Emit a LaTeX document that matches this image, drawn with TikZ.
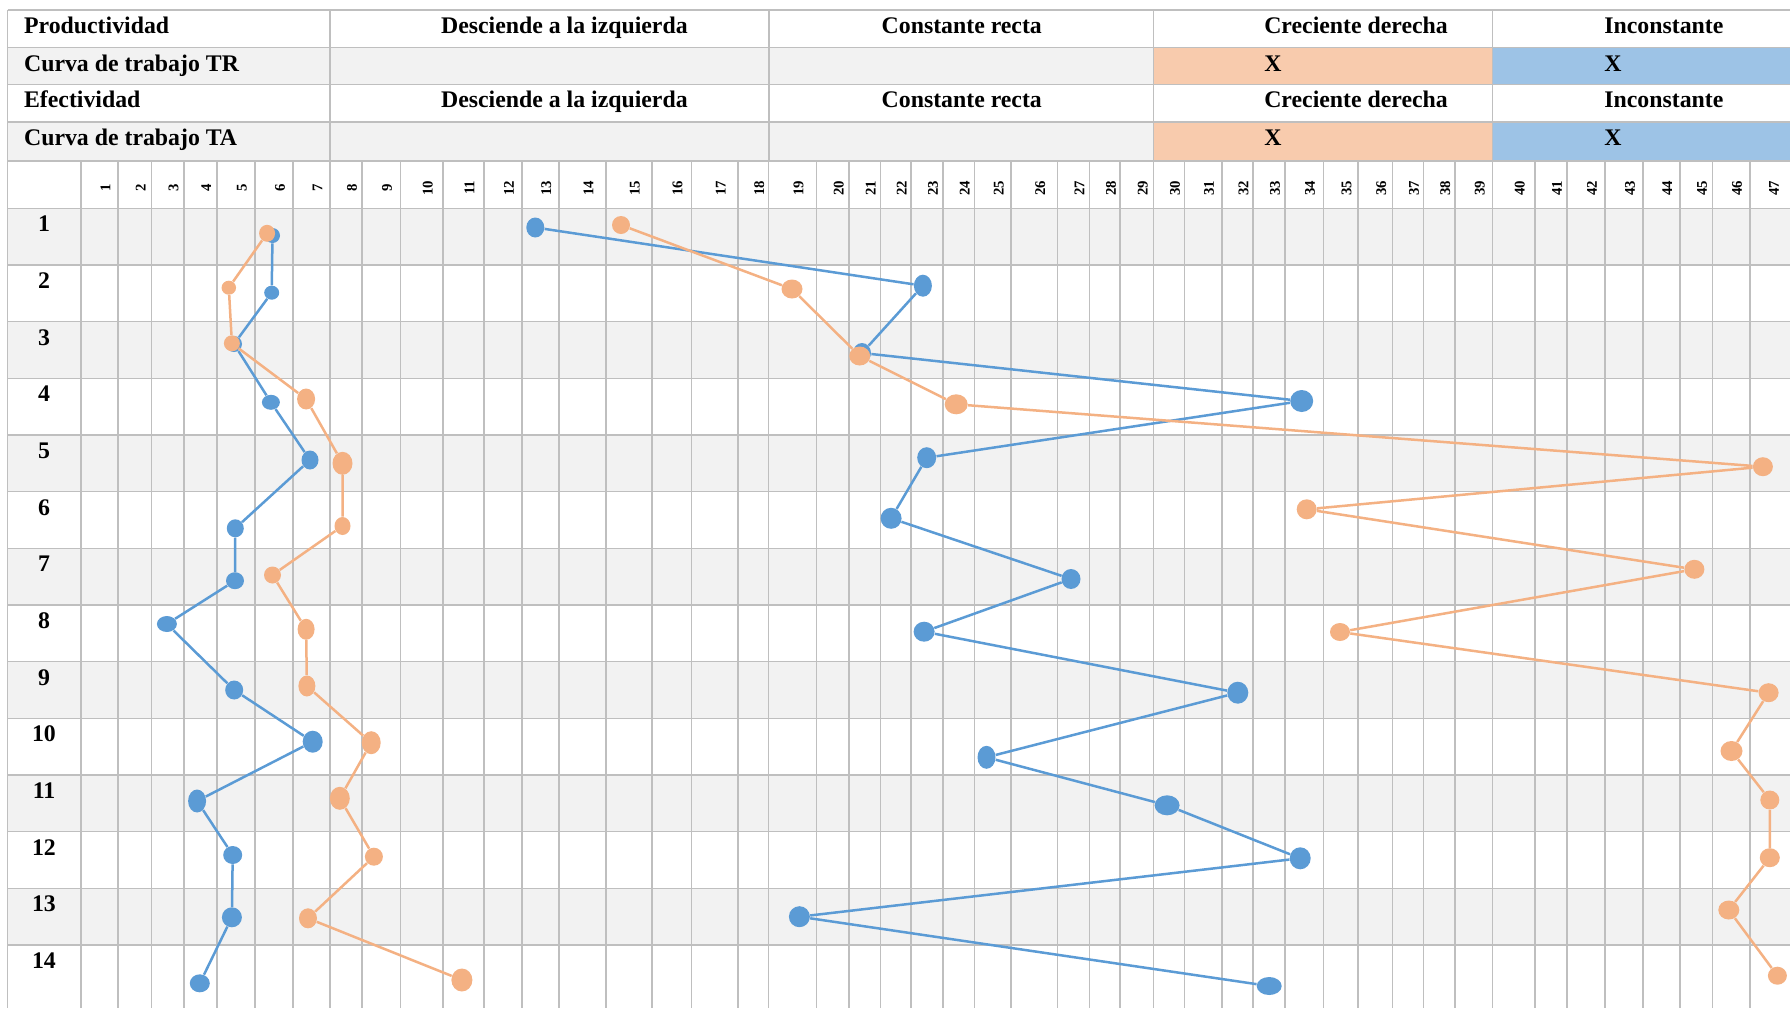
\documentclass[tikz,border=0pt]{standalone}
\usepackage{fontspec}
\setmainfont{Liberation Serif}
\usetikzlibrary{shapes.geometric}
\definecolor{gridc}{HTML}{BFBFBF}
\definecolor{lightg}{HTML}{F2F2F2}
\definecolor{orangeCell}{HTML}{F8CBAD}
\definecolor{blueCell}{HTML}{9DC3E6}
\definecolor{blueS}{HTML}{5B9BD5}
\definecolor{orangeS}{HTML}{F4B183}
\begin{document}
\begin{tikzpicture}[x=0.5pt,y=-0.5pt,
  hdr/.style={anchor=base west, inner sep=0pt, font=\fontsize{11.9}{14}\selectfont\bfseries},
  rown/.style={anchor=base, inner sep=0pt, font=\fontsize{11.9}{14}\selectfont\bfseries},
  coln/.style={rotate=90, inner sep=0pt, font=\fontsize{7.4}{9}\selectfont\bfseries},
  gline/.style={draw=gridc, line width=0.8pt},
  bmk/.style={ellipse, fill=blueS, draw=none, inner sep=0pt},
  omk/.style={ellipse, fill=orangeS, draw=none, inner sep=0pt},
  bln/.style={draw=blueS, line width=1.25pt},
  oln/.style={draw=orangeS, line width=1.25pt}]
\useasboundingbox (0,0) rectangle (1790,1008);
\fill[white] (0,0) rectangle (1790,1008);
% header fills
\fill[lightg] (7.65,47.3) rectangle (1153.3,84.3);
\fill[orangeCell] (1153.3,47.3) rectangle (1492.3,84.3);
\fill[blueCell] (1492.3,47.3) rectangle (1790,84.3);
\fill[lightg] (7.65,121.7) rectangle (1153.3,160.7);
\fill[orangeCell] (1153.3,121.7) rectangle (1492.3,160.7);
\fill[blueCell] (1492.3,121.7) rectangle (1790,160.7);
% data row shading
\foreach \k in {0,2,...,12}
  \fill[lightg] (7.65,{208.3+56.67*\k}) rectangle (1790,{208.3+56.67*(\k+1)});
% horizontal lines
\foreach \y in {10,47.3,84.3,121.7,160.7}
  \draw[gline] (7.65,\y) -- (1790,\y);
\foreach \k in {0,...,13}
  \draw[gline] (7.65,{208.3+56.67*\k}) -- (1790,{208.3+56.67*\k});
% vertical lines
\draw[gline] (7.65,10) -- (7.65,1008);
\foreach \x in {330,768.8,1153.3,1492.3}
  \draw[gline] (\x,10) -- (\x,161);
\foreach \a/\b [count=\i] in {81.1/117.9,117.9/151.5,151.5/183.7,183.7/217.0,217.0/254.8,254.8/293.1,293.1/329.9,329.9/362.0,362.0/400.3,400.3/443.1,443.1/484.1,484.1/521.7,521.7/558.9,558.9/606,606/651.7,651.7/691.3,691.3/738,738/768.6,768.6/816.6,816.6/848.7,848.7/880.5,880.5/911.1,911.1/942.9,942.9/974.6,974.6/1011.2,1011.2/1057.5,1057.5/1089.6,1089.6/1120.2,1120.2/1153.3,1153.3/1184.5,1184.5/1221.8,1221.8/1253.2,1253.2/1285,1285/1323.3,1323.3/1358,1358/1392.6,1392.6/1423.4,1423.4/1455.2,1455.2/1492.3,1492.3/1535.2,1535.2/1566.9,1566.9/1605.2,1605.2/1642.7,1642.7/1679.8,1679.8/1712.4,1712.4/1749.9,1749.9/1786}{
  \draw[gline] (\a,161) -- (\a,1008);
  \node[coln] (cn\i) at ({(\a+\b)/2+6},188) {\i};
}
% header texts
\node[hdr] (h11) at (23.7,33.3) {Productividad};
\node[hdr] (h12) at (440.7,33.3) {Desciende a la izquierda};
\node[hdr] (h13) at (881.3,33.3) {Constante recta};
\node[hdr] (h14) at (1263.9,33.3) {Creciente derecha};
\node[hdr] (h15) at (1604,33.3) {Inconstante};
\node[hdr] (h21) at (23.7,71) {Curva de trabajo TR};
\node[hdr] (h24) at (1263.9,71) {X};
\node[hdr] (h25) at (1604,71) {X};
\node[hdr] (h31) at (23.7,107.3) {Efectividad};
\node[hdr] (h32) at (440.7,107.3) {Desciende a la izquierda};
\node[hdr] (h33) at (881.3,107.3) {Constante recta};
\node[hdr] (h34) at (1263.9,107.3) {Creciente derecha};
\node[hdr] (h35) at (1604,107.3) {Inconstante};
\node[hdr] (h41) at (23.7,145) {Curva de trabajo TA};
\node[hdr] (h44) at (1263.9,145) {X};
\node[hdr] (h45) at (1604,145) {X};
% row numbers
\foreach \k in {1,...,14}
  \node[rown] (rn\k) at (44,{208.3+56.67*(\k-1)+23.4}) {\k};
% blue markers
\node[bmk, minimum width=7.5pt, minimum height=7.5pt] (ba1) at (272.5,235.5) {};
\node[bmk, minimum width=7.5pt, minimum height=7pt] (ba2) at (271.7,292.7) {};
\node[bmk, minimum width=8pt, minimum height=8pt] (ba3) at (234,344) {};
\node[bmk, minimum width=9pt, minimum height=7.5pt] (ba4) at (270.9,402.3) {};
\node[bmk, minimum width=8.5pt, minimum height=9.5pt] (ba5) at (310,460) {};
\node[bmk, minimum width=8.5pt, minimum height=9pt] (ba6) at (235.3,528.3) {};
\node[bmk, minimum width=9pt, minimum height=8.5pt] (ba7) at (235,580.7) {};
\node[bmk, minimum width=10pt, minimum height=8pt] (ba8) at (166.9,624) {};
\node[bmk, minimum width=9pt, minimum height=9.5pt] (ba9) at (234.2,690) {};
\node[bmk, minimum width=10pt, minimum height=11pt] (ba10) at (312.7,741.7) {};
\node[bmk, minimum width=9pt, minimum height=11.5pt] (ba11) at (197.1,801) {};
\node[bmk, minimum width=9.5pt, minimum height=9pt] (ba12) at (232.7,855) {};
\node[bmk, minimum width=10pt, minimum height=10pt] (ba13) at (231.9,917.3) {};
\node[bmk, minimum width=10pt, minimum height=9pt] (ba14) at (199.8,983.3) {};
\node[bmk, minimum width=9pt, minimum height=10pt] (bb1) at (535.3,227.5) {};
\node[bmk, minimum width=9pt, minimum height=11pt] (bb2) at (922.9,285.7) {};
\node[bmk, minimum width=9pt, minimum height=10pt] (bb3) at (862,353) {};
\node[bmk, minimum width=11.5pt, minimum height=11pt] (bb4) at (1301.7,401) {};
\node[bmk, minimum width=9.5pt, minimum height=10.5pt] (bb5) at (926.7,457.7) {};
\node[bmk, minimum width=10.5pt, minimum height=10.5pt] (bb6) at (891.1,518.3) {};
\node[bmk, minimum width=9.5pt, minimum height=10pt] (bb7) at (1071,579) {};
\node[bmk, minimum width=10.5pt, minimum height=10pt] (bb8) at (924.1,631.7) {};
\node[bmk, minimum width=10.5pt, minimum height=11pt] (bb9) at (1237.8,692.7) {};
\node[bmk, minimum width=9pt, minimum height=11.5pt] (bb10) at (986.5,757.3) {};
\node[bmk, minimum width=12.5pt, minimum height=10pt] (bb11) at (1167.1,805.3) {};
\node[bmk, minimum width=10.5pt, minimum height=11pt] (bb12) at (1300.2,858.3) {};
\node[bmk, minimum width=10.5pt, minimum height=10.5pt] (bb13) at (799.4,916.7) {};
\node[bmk, minimum width=12.5pt, minimum height=9pt] (bb14) at (1269.2,986) {};
% blue lines
\draw[bln] (ba1) -- (ba2) -- (ba3) -- (ba4) -- (ba5) -- (ba6) -- (ba7) -- (ba8) -- (ba9) -- (ba10) -- (ba11) -- (ba12) -- (ba13) -- (ba14);
\draw[bln] (bb1) -- (bb2) -- (bb3) -- (bb4) -- (bb5) -- (bb6) -- (bb7) -- (bb8) -- (bb9) -- (bb10) -- (bb11) -- (bb12) -- (bb13) -- (bb14);
% orange markers
\node[omk, minimum width=8pt, minimum height=8.5pt] (oa1) at (267.1,233.3) {};
\node[omk, minimum width=7.25pt, minimum height=7pt] (oa2) at (228.8,287.7) {};
\node[omk, minimum width=8pt, minimum height=8pt] (oa3) at (231.9,343.3) {};
\node[omk, minimum width=9pt, minimum height=10.5pt] (oa4) at (306.1,399) {};
\node[omk, minimum width=10pt, minimum height=11.5pt] (oa5) at (342.5,463.3) {};
\node[omk, minimum width=8pt, minimum height=9pt] (oa6) at (342.5,526) {};
\node[omk, minimum width=8.5pt, minimum height=8.5pt] (oa7) at (272.5,575) {};
\node[omk, minimum width=8.5pt, minimum height=10.5pt] (oa8) at (306.1,629.3) {};
\node[omk, minimum width=8.5pt, minimum height=10.5pt] (oa9) at (306.9,686) {};
\node[omk, minimum width=9.5pt, minimum height=11.5pt] (oa10) at (371.2,742.7) {};
\node[omk, minimum width=10pt, minimum height=11.5pt] (oa11) at (339.8,798.3) {};
\node[omk, minimum width=9pt, minimum height=9pt] (oa12) at (373.9,856.7) {};
\node[omk, minimum width=9pt, minimum height=10pt] (oa13) at (308,918.3) {};
\node[omk, minimum width=10.5pt, minimum height=11.5pt] (oa14) at (461.9,980) {};
\node[omk, minimum width=9pt, minimum height=9pt] (ob1) at (621,225) {};
\node[omk, minimum width=10.5pt, minimum height=9.5pt] (ob2) at (792,289) {};
\node[omk, minimum width=10.5pt, minimum height=9.5pt] (ob3) at (859.7,356) {};
\node[omk, minimum width=11.5pt, minimum height=10pt] (ob4) at (956.2,404.3) {};
\node[omk, minimum width=10pt, minimum height=9.5pt] (ob5) at (1762.9,466.7) {};
\node[omk, minimum width=10pt, minimum height=10pt] (ob6) at (1306.7,509.3) {};
\node[omk, minimum width=10pt, minimum height=9.5pt] (ob7) at (1694.4,569.3) {};
\node[omk, minimum width=10pt, minimum height=9pt] (ob8) at (1340,632) {};
\node[omk, minimum width=10pt, minimum height=9.5pt] (ob9) at (1768.6,692.7) {};
\node[omk, minimum width=11pt, minimum height=10pt] (ob10) at (1731.5,751) {};
\node[omk, minimum width=9.5pt, minimum height=9.5pt] (ob11) at (1769.8,800) {};
\node[omk, minimum width=10pt, minimum height=9.5pt] (ob12) at (1769.8,857.7) {};
\node[omk, minimum width=10.5pt, minimum height=9.5pt] (ob13) at (1728.8,910) {};
\node[omk, minimum width=9.5pt, minimum height=9pt] (ob14) at (1777.4,975.7) {};
% orange lines
\draw[oln] (oa1) -- (oa2) -- (oa3) -- (oa4) -- (oa5) -- (oa6) -- (oa7) -- (oa8) -- (oa9) -- (oa10) -- (oa11) -- (oa12) -- (oa13) -- (oa14);
\draw[oln] (ob1) -- (ob2) -- (ob3) -- (ob4) -- (ob5) -- (ob6) -- (ob7) -- (ob8) -- (ob9) -- (ob10) -- (ob11) -- (ob12) -- (ob13) -- (ob14);
\end{tikzpicture}
\end{document}
